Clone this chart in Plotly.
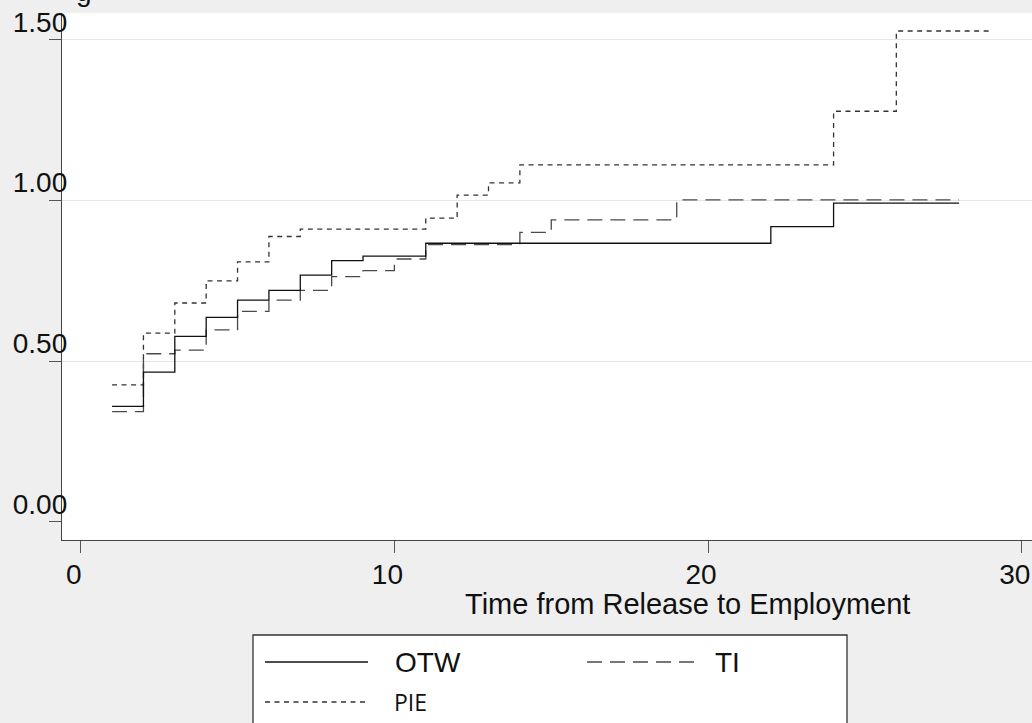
import plotly.graph_objects as go

# ---- data ----
otw_t = [1, 2, 3, 4, 5, 6, 7, 8, 9, 11, 22, 24, 28]
otw_h = [0.359, 0.466, 0.577, 0.636, 0.690, 0.720, 0.768, 0.813, 0.827, 0.867, 0.919, 0.992, 0.992]

ti_t = [1, 2, 3, 4, 5, 6, 7, 8, 9, 10, 11, 14, 15, 19, 28]
ti_h = [0.343, 0.523, 0.534, 0.597, 0.655, 0.690, 0.720, 0.763, 0.782, 0.818, 0.863, 0.901, 0.940, 1.002, 1.002]

pie_t = [1, 2, 3, 4, 5, 6, 7, 11, 12, 13, 14, 24, 26, 29]
pie_h = [0.426, 0.587, 0.681, 0.750, 0.809, 0.888, 0.911, 0.945, 1.017, 1.055, 1.111, 1.278, 1.528, 1.528]

x_ticks = [0, 10, 20, 30]
y_ticks = [0, 0.5, 1.0, 1.5]
y_ticktext = ["0.00", "0.50", "1.00", "1.50"]
series_names = ["OTW", "TI", "PIE"]
x_title = "Time from Release to Employment"
title_text = "g"

# ---- layout geometry ----
W, H = 1032, 723
L, R, T, B = 62, 0, 13, 183
PW, PH = W - L - R, H - T - B


def pxx(xp):
    return (xp - L) / PW


def pxy(yp):
    return (H - B - yp) / PH


FONT = "Arial, Liberation Sans, sans-serif"
styles = {
    "OTW": dict(color="#111111", width=1.3, dash="solid"),
    "TI": dict(color="#4a4a4a", width=1.3, dash="15px,8px"),
    "PIE": dict(color="#333333", width=1.3, dash="5px,4.5px"),
}

fig = go.Figure()
for name, t, h in [("PIE", pie_t, pie_h), ("TI", ti_t, ti_h), ("OTW", otw_t, otw_h)]:
    fig.add_trace(go.Scatter(x=t, y=h, mode="lines", name=name, showlegend=False,
                             line=dict(shape="hv", **styles[name])))

fig.update_layout(
    width=W, height=H,
    margin=dict(l=L, r=R, t=T, b=B, pad=0),
    paper_bgcolor="#efefef", plot_bgcolor="white",
    font=dict(family=FONT, size=28, color="#111111"),
    xaxis=dict(range=[-0.596, 30.325], tickvals=x_ticks, ticks="outside", ticklen=12,
               tickcolor="#555555", tickwidth=1.3, showline=True, linecolor="#444444",
               linewidth=1.3, showgrid=False, zeroline=False, ticklabelshift=-7,
               ticklabelstandoff=-3,
               tickfont=dict(family=FONT, size=28, color="#111111")),
    yaxis=dict(range=[-0.057, 1.584], tickvals=y_ticks, ticktext=y_ticktext, ticks="outside",
               ticklen=12, tickcolor="#555555", tickwidth=1.3, showline=True,
               linecolor="#444444", linewidth=1.3, showgrid=True, gridcolor="#e6e6e6",
               gridwidth=1, zeroline=True, zerolinecolor="white", zerolinewidth=2,
               ticklabelstandoff=-24, ticklabelshift=-18,
               tickfont=dict(family=FONT, size=28, color="#111111")),
)

annotations = [
    dict(text=x_title, x=pxx(687), y=pxy(604), xref="paper", yref="paper",
         xanchor="center", yanchor="middle", showarrow=False,
         font=dict(family=FONT, size=29, color="#111111")),
    dict(text=title_text, x=pxx(74), y=pxy(9), xref="paper", yref="paper",
         xanchor="left", yanchor="bottom", showarrow=False,
         font=dict(family=FONT, size=28, color="#111111")),
]

# ---- legend box drawn below the plot ----
shapes = [dict(type="rect", xref="paper", yref="paper", x0=pxx(253), x1=pxx(847),
               y0=pxy(635), y1=pxy(740), line=dict(color="#333333", width=1.3),
               fillcolor="white", layer="below")]
legend_pos = {"OTW": (265, 368, 662, 393, FONT, 28),
              "TI": (587, 697, 662, 713, FONT, 28),
              "PIE": (265, 368, 702, 392, "Open Sans, sans-serif", 23)}
for name in series_names:
    x0, x1, y, tx, fam, fs = legend_pos[name]
    st = styles[name]
    shapes.append(dict(type="line", xref="paper", yref="paper", x0=pxx(x0), x1=pxx(x1),
                       y0=pxy(y), y1=pxy(y),
                       line=dict(color=st["color"], width=st["width"], dash=st["dash"])))
    annotations.append(dict(text=name, x=pxx(tx), y=pxy(y), xref="paper", yref="paper",
                            xanchor="left", yanchor="middle", showarrow=False,
                            font=dict(family=fam, size=fs, color="#111111")))

fig.update_layout(shapes=shapes, annotations=annotations)
fig.write_html("out.html")
